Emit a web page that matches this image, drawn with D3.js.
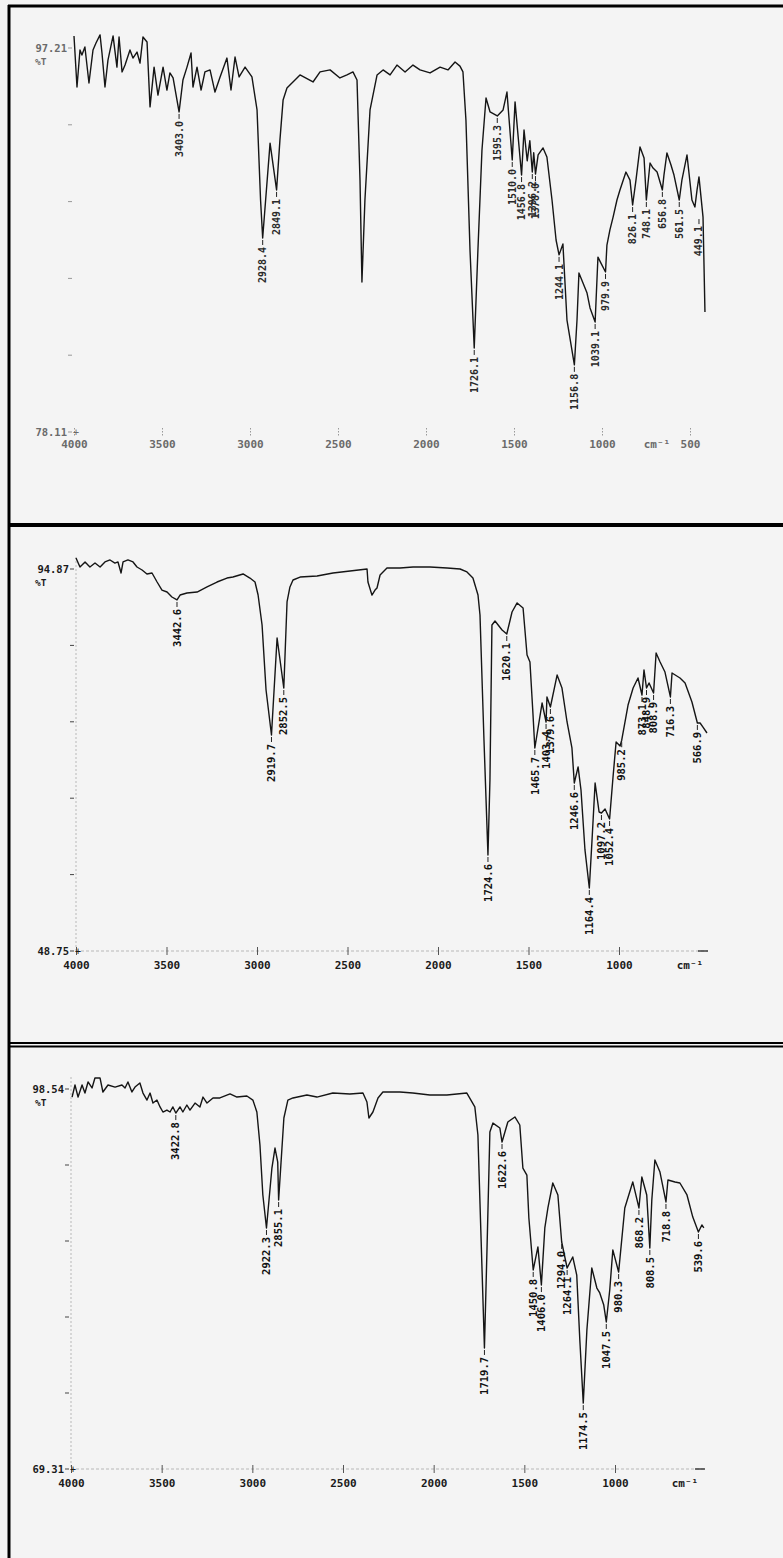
<!DOCTYPE html>
<html>
<head>
<meta charset="utf-8">
<script src="https://cdn.jsdelivr.net/npm/d3@7"></script>
<style>
  body { margin: 0; background: #f4f4f4; }
  svg { display: block; }
</style>
</head>
<body>
<svg id="chart" width="783" height="1558"></svg>
<script>
// ---------- data : [wavenumber cm-1, %T] ----------
const spec1 = [
  [4000,97.81],[3983,95.27],[3966,97.11],[3955,96.86],[3938,97.26],[3915,95.47],[3892,97.11],[3875,97.46],
  [3852,97.86],[3841,96.96],[3824,95.27],[3807,96.61],[3778,97.81],[3756,96.26],[3744,97.76],[3727,96.02],
  [3710,96.36],[3682,97.11],[3665,96.71],[3642,97.01],[3625,96.46],[3608,97.76],[3585,97.51],[3568,94.28],
  [3545,96.26],[3523,94.87],[3494,96.26],[3472,95.12],[3455,95.97],[3437,95.72],[3403,94.03],[3381,95.62],
  [3358,96.26],[3335,96.96],[3324,95.27],[3301,96.26],[3278,95.12],[3256,96.02],[3227,96.12],[3199,95.02],
  [3170,95.77],[3131,96.71],[3108,95.12],[3085,96.76],[3062,95.77],[3028,96.26],[2989,95.77],[2960,94.13],
  [2940,89.65],[2928,87.76],[2886,92.48],[2849,90.15],[2830,92.63],[2812,94.62],[2790,95.22],[2716,95.87],
  [2642,95.52],[2602,96.02],[2545,96.12],[2489,95.72],[2449,95.87],[2415,96.02],[2392,95.62],[2375,90.64],
  [2364,85.57],[2347,89.65],[2318,94.13],[2278,95.87],[2244,96.12],[2204,95.87],[2165,96.36],[2119,96.02],
  [2074,96.36],[2034,96.12],[1977,95.97],[1920,96.26],[1875,96.12],[1835,96.51],[1807,96.31],[1790,96.02],
  [1773,93.62],[1750,87.16],[1726,82.29],[1705,87.16],[1682,92.14],[1659,94.72],[1636,94.03],[1595,93.83],
  [1562,94.13],[1540,95.02],[1510,91.64],[1494,94.53],[1457,90.89],[1443,93.13],[1425,91.60],[1410,92.60],
  [1396,91.04],[1388,92.00],[1378,90.94],[1363,91.89],[1335,92.24],[1313,91.79],[1284,89.65],[1261,87.66],
  [1244,86.92],[1222,87.46],[1199,83.68],[1157,81.45],[1142,83.68],[1131,86.02],[1108,85.52],[1085,85.02],
  [1068,84.28],[1039,83.58],[1023,86.81],[1006,86.51],[980,86.07],[972,87.41],[955,88.16],[937,88.80],
  [915,89.65],[898,90.15],[864,91.04],[841,90.64],[826,89.40],[807,90.64],[784,92.29],[761,91.74],
  [748,89.65],[727,91.49],[710,91.24],[687,91.04],[657,90.15],[648,90.89],[631,91.99],[608,91.39],
  [591,90.89],[561,89.65],[546,90.64],[517,91.89],[489,89.65],[472,89.30],[460,90.15],[449,90.80],
  [426,88.80],[415,84.08]
];
const peaks1 = [
  ["3403.0",3403,94.03],["2928.4",2928,87.76],["2849.1",2849,90.15],["1726.1",1726,82.29],
  ["1595.3",1595,93.83],["1510.0",1510,91.64],["1456.8",1457,90.89],["1396.2",1396,91.04],
  ["1378.0",1378,90.94],["1244.1",1244,86.92],["1156.8",1157,81.45],["1039.1",1039,83.58],
  ["979.9",980,86.07],["826.1",826,89.40],["748.1",748,89.65],["656.8",657,90.15],
  ["561.5",561,89.65],["449.1",449,88.80]
];

const spec2 = [
  [4000,96.20],[3978,95.11],[3950,95.72],[3923,95.11],[3895,95.59],[3867,95.11],[3840,95.72],[3812,95.96],
  [3785,95.59],[3768,95.72],[3751,94.39],[3740,95.72],[3713,95.96],[3685,95.72],[3663,95.11],[3635,94.75],
  [3608,94.27],[3580,94.39],[3552,93.30],[3525,92.33],[3497,92.09],[3470,91.49],[3442,91.13],[3425,91.73],
  [3387,91.97],[3331,92.09],[3276,92.70],[3221,93.30],[3166,93.78],[3133,93.90],[3077,94.27],[3039,93.78],
  [3011,93.30],[2994,91.73],[2972,88.11],[2950,80.26],[2920,74.83],[2889,86.54],[2852,80.50],[2834,90.89],
  [2818,92.70],[2801,93.54],[2762,93.90],[2668,94.03],[2580,94.39],[2486,94.63],[2392,94.87],[2387,93.30],
  [2365,91.73],[2348,92.33],[2337,92.58],[2320,94.15],[2282,94.99],[2210,94.99],[2138,95.11],[2044,95.11],
  [1950,94.99],[1878,94.87],[1840,94.51],[1807,93.78],[1779,91.73],[1768,89.32],[1746,74.23],[1724,60.34],
  [1713,69.40],[1702,88.11],[1685,88.59],[1646,87.51],[1620,87.02],[1591,89.68],[1563,90.77],[1530,90.16],
  [1508,84.49],[1492,83.64],[1475,77.24],[1465,73.26],[1425,78.69],[1403,76.40],[1398,79.42],[1379,78.21],
  [1342,82.07],[1315,80.50],[1287,76.40],[1260,73.26],[1247,69.03],[1226,70.97],[1210,68.19],[1188,60.95],
  [1164,56.36],[1149,62.15],[1132,69.03],[1110,65.53],[1097,65.41],[1077,65.89],[1052,64.69],[1033,69.76],
  [1016,73.98],[994,73.50],[985,74.20],[950,78.45],[922,80.50],[895,81.71],[873,79.66],[862,82.68],
  [848,80.50],[834,81.11],[809,79.90],[795,84.73],[773,83.64],[746,82.43],[716,79.42],[707,82.31],
  [663,81.71],[635,81.11],[597,78.81],[567,76.28],[552,76.28],[536,75.79],[514,75.07]
];
const peaks2 = [
  ["3442.6",3442,91.13],["2919.7",2920,74.83],["2852.5",2852,80.50],["1724.6",1724,60.34],
  ["1620.1",1620,87.02],["1465.7",1465,73.26],["1403.4",1403,76.40],["1379.6",1379,78.21],
  ["1246.6",1247,69.03],["1164.4",1164,56.36],["1097.2",1097,65.41],["1052.4",1052,64.69],
  ["985.2",985,74.20],["873.1",873,79.66],["848.9",848,80.50],["808.9",809,79.90],
  ["716.3",716,79.42],["566.9",567,76.28]
];

const spec3 = [
  [3994,97.92],[3978,98.85],[3961,97.92],[3939,98.85],[3923,98.23],[3906,99.08],[3884,98.62],[3868,99.39],
  [3840,99.39],[3824,98.31],[3796,98.85],[3757,98.69],[3719,98.85],[3702,98.62],[3686,99.08],[3664,98.31],
  [3647,98.69],[3620,99.00],[3603,98.23],[3581,97.69],[3564,98.23],[3548,97.46],[3526,97.69],[3509,97.16],
  [3493,96.77],[3471,96.92],[3454,96.77],[3438,97.16],[3422,96.69],[3399,97.16],[3383,96.77],[3361,97.31],
  [3344,96.92],[3316,97.46],[3289,97.16],[3272,97.92],[3250,97.46],[3217,97.85],[3179,97.85],[3123,98.16],
  [3085,97.92],[3030,98.00],[2997,97.69],[2975,96.77],[2958,94.23],[2942,90.39],[2922,87.85],[2892,92.46],
  [2875,94.00],[2860,92.92],[2855,90.00],[2826,96.31],[2804,97.69],[2776,97.85],[2699,98.08],[2644,97.92],
  [2556,98.23],[2462,98.16],[2390,98.23],[2368,97.54],[2357,96.31],[2335,96.77],[2307,97.85],[2280,98.31],
  [2186,98.31],[2115,98.23],[2021,98.08],[1927,98.08],[1817,98.23],[1773,97.16],[1756,95.00],[1740,87.69],
  [1720,78.62],[1706,86.16],[1690,95.23],[1673,95.92],[1635,95.54],[1623,94.46],[1591,96.00],[1552,96.39],
  [1525,95.77],[1508,92.46],[1486,91.92],[1475,88.62],[1451,84.62],[1425,86.39],[1406,83.46],[1387,87.85],
  [1370,89.39],[1343,91.31],[1315,90.39],[1294,86.77],[1264,84.77],[1233,85.62],[1211,84.23],[1194,79.23],
  [1175,74.38],[1155,80.00],[1128,84.77],[1100,83.23],[1084,82.85],[1062,81.92],[1048,80.62],[1029,83.08],
  [1012,86.16],[980,84.46],[946,89.39],[902,91.39],[868,89.39],[852,91.77],[825,90.39],[808,86.31],
  [797,90.00],[780,93.08],[752,92.15],[719,89.85],[708,91.54],[669,91.39],[642,91.31],[603,90.39],
  [571,88.69],[540,87.54],[521,88.08],[510,87.85]
];
const peaks3 = [
  ["3422.8",3422,96.69],["2922.3",2922,87.85],["2855.1",2855,90.00],["1719.7",1720,78.62],
  ["1622.6",1623,94.46],["1450.8",1451,84.62],["1406.0",1406,83.46],["1294.0",1294,86.77],
  ["1264.1",1264,84.77],["1174.5",1175,74.38],["1047.5",1048,80.62],["980.3",980,84.46],
  ["868.2",868,89.39],["808.5",808,86.31],["718.8",719,89.85],["539.6",540,87.54]
];

const ticks1 = [4000, 3500, 3000, 2500, 2000, 1500, 1000, 500];
const ticks23 = [4000, 3500, 3000, 2500, 2000, 1500, 1000];
const yRange1 = [78.11, 97.21];
const yRange2 = [48.75, 94.87];
const yRange3 = [69.31, 98.54];

// ---------- drawing ----------
const svg = d3.select("#chart");
const MONO = "'DejaVu Sans Mono', 'Liberation Mono', monospace";

svg.append("rect").attr("width", 783).attr("height", 1558).attr("fill", "#f4f4f4");

// frame lines of the scanned page
svg.append("line").attr("x1", 9).attr("x2", 9).attr("y1", 5).attr("y2", 1558)
  .attr("stroke", "#000").attr("stroke-width", 3);
svg.append("line").attr("x1", 8).attr("x2", 783).attr("y1", 6).attr("y2", 6)
  .attr("stroke", "#000").attr("stroke-width", 3);
svg.append("line").attr("x1", 8).attr("x2", 783).attr("y1", 525).attr("y2", 525)
  .attr("stroke", "#000").attr("stroke-width", 4);
[1043, 1046.5].forEach(y => {
  svg.append("line").attr("x1", 8).attr("x2", 783).attr("y1", y).attr("y2", y)
    .attr("stroke", "#000").attr("stroke-width", 2);
});

function drawPanel(p) {
  const g = svg.append("g");
  const x = d3.scaleLinear().domain([4000, p.xEndVal]).range([p.x0, p.xEnd]);
  const y = d3.scaleLinear().domain(p.yDomain).range([p.yBottom, p.yTop]);
  const txt = p.faint ? "#6a6a6a" : "#1a1a1a";

  // dotted axis lines (panels 2 and 3)
  if (p.axisLines) {
    g.append("line").attr("x1", p.x0).attr("x2", p.x0).attr("y1", p.yTop - 12).attr("y2", p.yBottom)
      .attr("stroke", "#aaa").attr("stroke-width", 0.8).attr("stroke-dasharray", "2,2");
    g.append("line").attr("x1", p.x0).attr("x2", p.arrowX).attr("y1", p.yBottom).attr("y2", p.yBottom)
      .attr("stroke", "#aaa").attr("stroke-width", 0.8).attr("stroke-dasharray", "3,2");
    g.append("line").attr("x1", p.arrowX - 10).attr("x2", p.arrowX).attr("y1", p.yBottom).attr("y2", p.yBottom)
      .attr("stroke", "#333").attr("stroke-width", 1.4);
  }

  // x axis with tick labels
  const xAxis = g.append("g")
    .attr("transform", `translate(0,${p.yBottom})`)
    .call(d3.axisBottom(x).tickValues(p.ticks).tickFormat(d3.format("d"))
      .tickSizeInner(p.tickPad).tickSizeOuter(0).tickPadding(1));
  xAxis.select(".domain").remove();
  xAxis.selectAll(".tick line").attr("y1", -4).attr("y2", 4)
    .attr("stroke", p.faint ? "#999" : "#555").attr("stroke-width", 1);
  xAxis.selectAll(".tick text")
    .attr("font-family", MONO).attr("font-size", 11).attr("font-weight", "bold")
    .attr("fill", txt);
  if (p.faint) xAxis.selectAll(".tick line").attr("stroke-dasharray", "1.5,1.5");

  g.append("text").attr("x", p.cmX).attr("y", p.yBottom + p.tickPad + 9)
    .attr("font-family", MONO).attr("font-size", 11).attr("font-weight", "bold")
    .attr("fill", txt).attr("text-anchor", "middle").text("cm⁻¹");

  // y axis : end labels plus small tick marks
  const yTicks = d3.range(6).map(i => p.yDomain[0] + i * (p.yDomain[1] - p.yDomain[0]) / 5);
  g.selectAll(".ytick").data(yTicks).enter().append("line")
    .attr("x1", p.x0 - 6).attr("x2", p.x0 - 2)
    .attr("y1", d => y(d)).attr("y2", d => y(d))
    .attr("stroke", p.faint ? "#999" : "#444").attr("stroke-width", 1);
  p.yDomain.forEach(v => {
    g.append("text").attr("x", p.x0 - 7).attr("y", y(v)).attr("dy", "0.35em")
      .attr("text-anchor", "end").attr("font-family", MONO).attr("font-size", 10.5)
      .attr("font-weight", "bold").attr("fill", txt).text(v.toFixed(2));
  });
  g.append("text").attr("x", p.x0 + 2).attr("y", p.yBottom).attr("dy", "0.35em")
    .attr("text-anchor", "middle").attr("font-family", MONO).attr("font-size", 10)
    .attr("fill", txt).text("+");
  g.append("text").attr("x", 35).attr("y", y(p.yDomain[1]) + 14).attr("dy", "0.35em")
    .attr("font-family", MONO).attr("font-size", 9.5).attr("font-weight", "bold")
    .attr("fill", txt).text("%T");

  // spectrum
  const line = d3.line().x(d => x(d[0])).y(d => y(d[1]));
  g.append("path").datum(p.data).attr("d", line)
    .attr("fill", "none").attr("stroke", "#151515").attr("stroke-width", 1.4)
    .attr("stroke-linejoin", "round");

  // peak labels
  const pk = g.selectAll(".peak").data(p.peaks).enter().append("g")
    .attr("transform", d => `translate(${x(d[1])},${y(d[2])})`);
  pk.append("line").attr("x1", 0).attr("x2", 0).attr("y1", 2).attr("y2", 7)
    .attr("stroke", "#222").attr("stroke-width", 1);
  pk.append("text")
    .attr("transform", "translate(0,9) rotate(-90)")
    .attr("text-anchor", "end").attr("dy", "0.35em")
    .attr("font-family", MONO).attr("font-size", p.faint ? 10 : 10.5).attr("font-weight", "bold")
    .attr("fill", p.faint ? "#2a2a2a" : "#111")
    .text(d => d[0]);
}

drawPanel({ data: spec1, peaks: peaks1, ticks: ticks1, yDomain: yRange1,
  x0: 74, xEnd: 690, xEndVal: 500, yTop: 48, yBottom: 432,
  faint: true, axisLines: false, tickPad: 7, cmX: 657, arrowX: 705 });
drawPanel({ data: spec2, peaks: peaks2, ticks: ticks23, yDomain: yRange2,
  x0: 76, xEnd: 619, xEndVal: 1000, yTop: 569, yBottom: 951,
  faint: false, axisLines: true, tickPad: 9, cmX: 690, arrowX: 708 });
drawPanel({ data: spec3, peaks: peaks3, ticks: ticks23, yDomain: yRange3,
  x0: 71, xEnd: 615, xEndVal: 1000, yTop: 1089, yBottom: 1469,
  faint: false, axisLines: true, tickPad: 9, cmX: 685, arrowX: 705 });
</script>
</body>
</html>
